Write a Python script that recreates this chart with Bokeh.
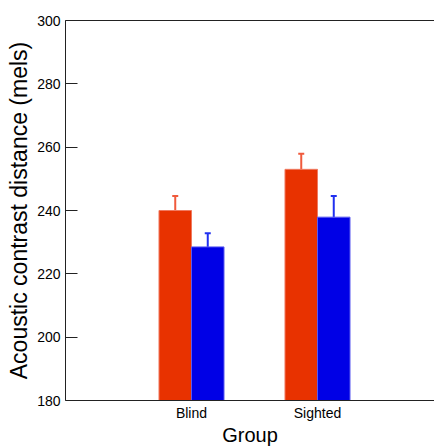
import math
from bokeh.plotting import figure
from bokeh.models import (ColumnDataSource, FixedTicker, LinearAxis, Range1d,
                          Whisker, TeeHead)
from bokeh.embed import file_html
from bokeh.resources import INLINE

# ---- data ----
groups = ["Blind", "Sighted"]
group_pos = [1, 2]
red_means = [240.0, 253.0]
red_err = [4.6, 4.9]
blue_means = [228.5, 237.9]
blue_err = [4.3, 6.7]
y_ticks = [180, 200, 220, 240, 260, 280, 300]

BW = 0.258
FONT = "Liberation Sans"

p = figure(width=434, height=448, output_backend="svg", toolbar_location=None,
           x_range=Range1d(0, 369 / 126), y_range=Range1d(180, 300),
           min_border_left=65, min_border_top=20, min_border_bottom=48,
           min_border_right=0, x_axis_location="below")
p.outline_line_color = None
p.grid.visible = False
p.background_fill_color = "white"
p.border_fill_color = "white"

red_x = [g - BW / 2 for g in group_pos]
blue_x = [g + BW / 2 for g in group_pos]
red_src = ColumnDataSource(dict(x=red_x, top=red_means,
                                upper=[m + e for m, e in zip(red_means, red_err)]))
blue_src = ColumnDataSource(dict(x=blue_x, top=blue_means,
                                 upper=[m + e for m, e in zip(blue_means, blue_err)]))

p.vbar(x="x", top="top", bottom=180, width=BW, source=red_src,
       fill_color="#E83200", line_color="#F07A60", line_width=1)
p.vbar(x="x", top="top", bottom=180, width=BW, source=blue_src,
       fill_color="#0000E6", line_color="#5A5AF0", line_width=1)

p.add_layout(Whisker(base="x", lower="top", upper="upper", source=red_src,
                     dimension="height", line_color="#F05A3C", line_width=2,
                     lower_head=None,
                     upper_head=TeeHead(size=6, line_color="#F05A3C", line_width=2)))
p.add_layout(Whisker(base="x", lower="top", upper="upper", source=blue_src,
                     dimension="height", line_color="#2030F0", line_width=2,
                     lower_head=None,
                     upper_head=TeeHead(size=6, line_color="#2030F0", line_width=2)))

# y axis
ya = p.yaxis[0]
ya.ticker = FixedTicker(ticks=y_ticks)
ya.minor_tick_line_color = None
ya.major_tick_in = 12
ya.major_tick_out = 0
ya.major_tick_line_color = "#222222"
ya.axis_line_color = "#222222"
ya.major_label_text_font = FONT
ya.major_label_text_font_size = "14px"
ya.major_label_text_color = "black"
ya.major_label_standoff = 5
ya.axis_label = "Acoustic contrast distance (mels)"
ya.axis_label_text_font = FONT
ya.axis_label_text_font_size = "23px"
ya.axis_label_text_font_style = "normal"
ya.axis_label_text_color = "black"
ya.axis_label_standoff = 2

# x axis
xa = p.xaxis[0]
xa.ticker = FixedTicker(ticks=group_pos)
xa.major_label_overrides = {g: n for g, n in zip(group_pos, groups)}
xa.minor_tick_line_color = None
xa.major_tick_in = 0
xa.major_tick_out = 0
xa.axis_line_color = "#222222"
xa.major_label_text_font = FONT
xa.major_label_text_font_size = "14px"
xa.major_label_text_color = "black"
xa.major_label_standoff = 4
xa.axis_label = "Group"
xa.axis_label_text_font = FONT
xa.axis_label_text_font_size = "20px"
xa.axis_label_text_font_style = "normal"
xa.axis_label_text_color = "black"
xa.axis_label_standoff = 0

# top border line
top_axis = LinearAxis(ticker=FixedTicker(ticks=[]), major_tick_out=0, major_tick_in=0,
                      minor_tick_out=0, minor_tick_in=0, major_label_standoff=0,
                      axis_line_color="#222222", major_label_text_font_size="0px")
p.add_layout(top_axis, "above")

open("out.html", "w").write(file_html(p, INLINE))
